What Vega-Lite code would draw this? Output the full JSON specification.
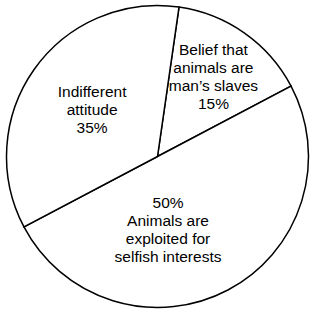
{
  "$schema": "https://vega.github.io/schema/vega-lite/v6.json",
  "width": 315,
  "height": 313,
  "autosize": {"type": "fit", "contains": "padding"},
  "padding": 0,
  "background": "white",
  "config": {"view": {"stroke": null}},
  "data": {
    "values": [
      {"slice": 1, "key": "slaves", "value": 15, "label": ["Belief that", "animals are", "man’s slaves", "15%"]},
      {"slice": 2, "key": "exploited", "value": 50, "label": ["50%", "Animals are", "exploited for", "selfish interests"]},
      {"slice": 3, "key": "indifferent", "value": 35, "label": ["Indifferent", "attitude", "35%"]}
    ]
  },
  "encoding": {
    "theta": {"field": "value", "type": "quantitative", "stack": true, "scale": {"range": [0.143, 6.426]}},
    "order": {"field": "slice", "type": "quantitative", "sort": "ascending"}
  },
  "layer": [
    {
      "mark": {"type": "arc", "outerRadius": 151, "fill": "white", "stroke": "black", "strokeWidth": 1.5}
    },
    {
      "mark": {"type": "text", "radius": 97, "dy": -27, "font": "Liberation Sans", "fontSize": 15.5, "lineHeight": 18, "color": "black", "align": "center", "baseline": "middle"},
      "encoding": {"text": {"condition": {"test": "datum.key === 'slaves'", "field": "label"}, "value": ""}}
    },
    {
      "mark": {"type": "text", "radius": 80, "dy": -18, "font": "Liberation Sans", "fontSize": 15.5, "lineHeight": 18, "color": "black", "align": "center", "baseline": "middle"},
      "encoding": {"text": {"condition": {"test": "datum.key === 'indifferent'", "field": "label"}, "value": ""}}
    },
    {
      "mark": {"type": "text", "radius": 74, "dx": -24, "dy": -19, "font": "Liberation Sans", "fontSize": 15.5, "lineHeight": 18, "color": "black", "align": "center", "baseline": "middle"},
      "encoding": {"text": {"condition": {"test": "datum.key === 'exploited'", "field": "label"}, "value": ""}}
    }
  ]
}
